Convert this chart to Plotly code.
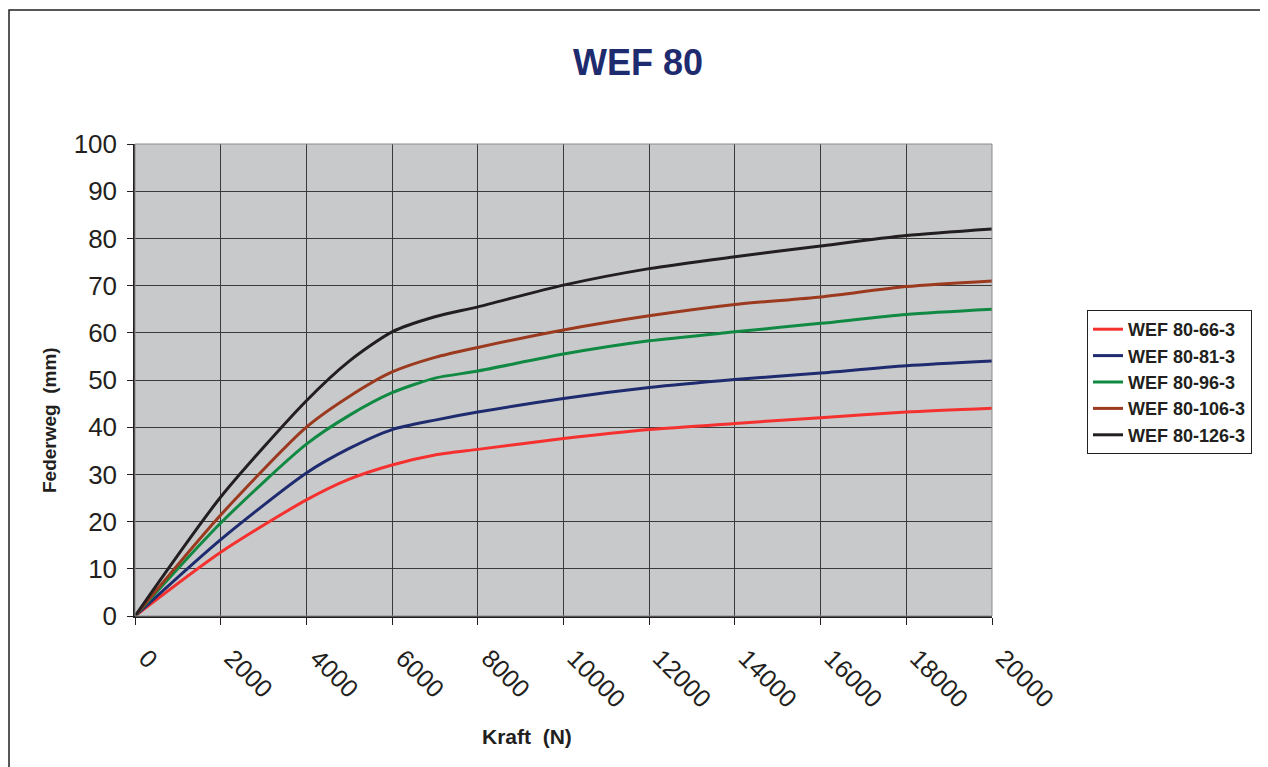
import plotly.graph_objects as go

kraft = [0, 2000, 4000, 5000, 6000, 7000, 8000, 10000, 12000, 14000, 16000, 18000, 20000]
wef_66 = [0, 13.5, 24.6, 29.0, 32.0, 34.1, 35.3, 37.6, 39.5, 40.8, 42.0, 43.2, 44.0]
wef_81 = [0, 16.2, 30.3, 35.5, 39.5, 41.5, 43.2, 46.1, 48.4, 50.1, 51.5, 53.0, 54.0]
wef_96 = [0, 19.7, 36.4, 42.5, 47.3, 50.4, 51.9, 55.5, 58.3, 60.2, 62.0, 63.9, 65.0]
wef_106 = [0, 21.4, 40.0, 46.5, 51.7, 54.8, 56.9, 60.6, 63.6, 66.0, 67.6, 69.8, 71.0]
wef_126 = [0, 25.2, 45.6, 54.0, 60.2, 63.4, 65.5, 70.1, 73.6, 76.1, 78.4, 80.6, 82.0]

names = ["WEF 80-66-3", "WEF 80-81-3", "WEF 80-96-3", "WEF 80-106-3", "WEF 80-126-3"]
series = [wef_66, wef_81, wef_96, wef_106, wef_126]
colors = ["#f5312f", "#1f2b6f", "#108a42", "#9b3a1f", "#231f20"]

x_ticks = list(range(0, 20001, 2000))
y_ticks = list(range(0, 101, 10))

FONT = "Liberation Sans, Arial, sans-serif"

fig = go.Figure()
for i, (name, ys, c) in enumerate(zip(names, series, colors)):
    fig.add_trace(go.Scatter(x=kraft, y=ys, name="<b>" + name + "</b>", mode="lines",
                             legendgroup="g%d" % i,
                             line=dict(color=c, width=3, shape="spline", smoothing=0.7)))

OFF = 8  # page body margin
W, H = 1268 - OFF, 767 - OFF
L, R, T, B = 135, 992, 144, 616  # plot area in page coordinates
pw, ph = R - L, B - T

def px(xp):
    return (xp - L) / pw

def py(yp):
    return (B - yp) / ph

fig.update_layout(
    width=W, height=H,
    margin=dict(l=L - OFF, r=W - (R - OFF), t=T - OFF, b=H - (B - OFF)),
    paper_bgcolor="white",
    plot_bgcolor="#c8c9cb",
    font=dict(family=FONT, color="#231f20"),
    showlegend=True,
    legend=dict(x=px(1087), y=py(310), xanchor="left", yanchor="top",
                bordercolor="#231f20", borderwidth=1, bgcolor="white",
                font=dict(family=FONT, size=18, color="#231f20"),
                tracegroupgap=0, itemwidth=30),
    title=dict(text="<b>WEF 80</b>", xref="container", x=(638 - OFF) / W, xanchor="center",
               yref="container", y=1 - (62 - OFF) / H, yanchor="middle",
               font=dict(family=FONT, size=36, color="#1f2b6f")),
)

fig.update_xaxes(range=[0, 20000], tickvals=x_ticks, ticktext=[str(v) for v in x_ticks],
                 tickangle=45, tickfont=dict(family=FONT, size=25, color="#231f20"),
                 ticklabelstandoff=9, ticklabelshift=11,
                 showgrid=True, gridcolor="#3a3a3a", gridwidth=1,
                 showline=True, linecolor="#231f20", linewidth=1.5,
                 ticks="outside", ticklen=7, tickcolor="#231f20", zeroline=False)
fig.update_yaxes(range=[0, 100], tickvals=y_ticks, ticktext=[str(v) for v in y_ticks],
                 tickfont=dict(family=FONT, size=26, color="#231f20"),
                 ticklabelstandoff=5,
                 showgrid=True, gridcolor="#3a3a3a", gridwidth=1,
                 showline=True, linecolor="#231f20", linewidth=1.5,
                 ticks="outside", ticklen=6, tickcolor="#231f20", zeroline=False)

fig.add_shape(type="rect", xref="paper", yref="paper",
              x0=px(9), x1=px(1265), y0=py(800), y1=py(10),
              line=dict(color="#231f20", width=1.5), fillcolor="rgba(0,0,0,0)", layer="below")
fig.add_shape(type="rect", xref="paper", yref="paper",
              x0=0, x1=1, y0=0, y1=1,
              line=dict(color="#8a8a8a", width=1), fillcolor="rgba(0,0,0,0)")

fig.add_annotation(text="<b>Kraft&nbsp;&nbsp;(N)</b>", xref="paper", yref="paper",
                   x=px(527), y=py(737), showarrow=False, xanchor="center", yanchor="middle",
                   font=dict(family=FONT, size=21, color="#231f20"))
fig.add_annotation(text="<b>Federweg&nbsp;&nbsp;(mm)</b>", xref="paper", yref="paper",
                   x=px(49), y=py(420), showarrow=False, xanchor="center", yanchor="middle",
                   textangle=-90, font=dict(family=FONT, size=19, color="#231f20"))

fig.write_html("out.html")
